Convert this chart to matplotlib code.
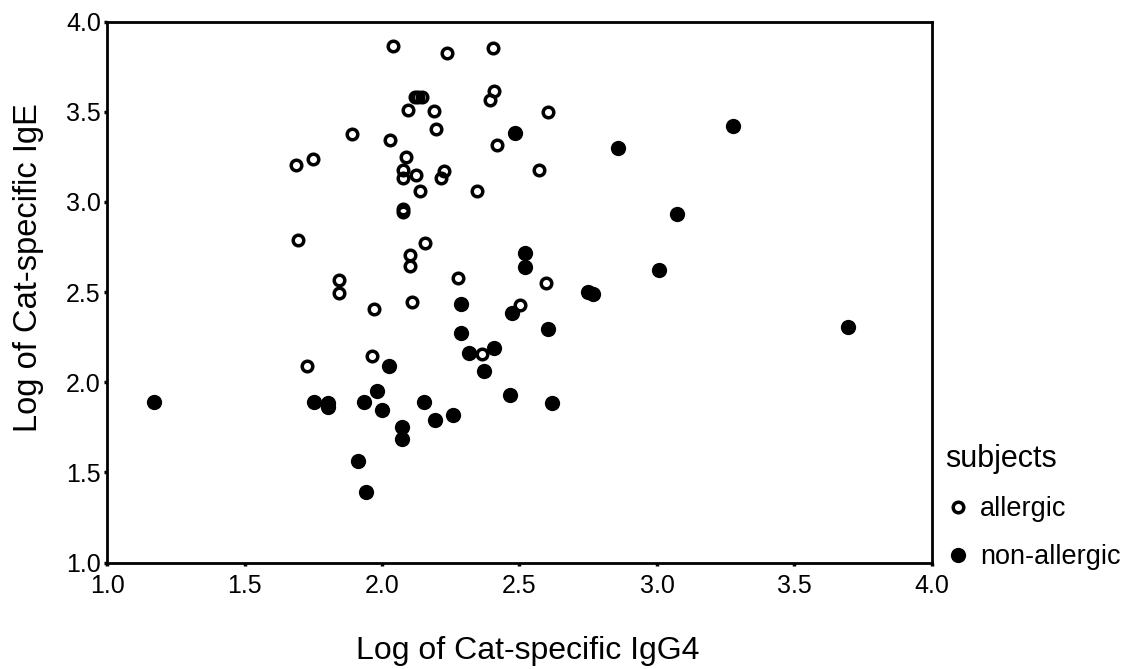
import matplotlib
matplotlib.use("Agg")
import matplotlib.pyplot as plt

plt.rcParams['font.family'] = ['Liberation Sans', 'DejaVu Sans']

# allergic subjects (open circles)
allergic_x = [2.041, 2.236, 2.403, 2.409, 2.391, 2.120, 2.132, 2.144, 2.096, 2.188,
              2.605, 2.197, 1.891, 2.030, 2.418, 1.687, 1.750, 2.087, 2.075, 2.075,
              2.124, 2.227, 2.215, 2.140, 2.345, 2.570, 2.075, 2.075, 1.695, 2.157,
              2.102, 2.102, 1.842, 1.842, 2.278, 2.595, 2.109, 1.972, 2.503, 1.729,
              1.962, 2.365]
allergic_y = [3.867, 3.825, 3.852, 3.614, 3.564, 3.583, 3.585, 3.583, 3.509, 3.504,
              3.498, 3.403, 3.375, 3.344, 3.317, 3.206, 3.238, 3.247, 3.179, 3.133,
              3.151, 3.170, 3.133, 3.063, 3.063, 3.175, 2.962, 2.944, 2.790, 2.775,
              2.705, 2.647, 2.570, 2.495, 2.577, 2.548, 2.448, 2.405, 2.430, 2.088,
              2.147, 2.159]

# non-allergic subjects (filled circles)
nonallergic_x = [2.485, 2.860, 3.277, 3.072, 2.520, 2.520, 3.006, 2.748, 2.769, 3.695,
                 2.473, 2.605, 2.286, 2.286, 2.318, 2.407, 2.371, 2.027, 2.466, 2.618,
                 1.170, 1.753, 1.802, 1.802, 1.933, 1.981, 2.000, 2.154, 2.193, 2.258,
                 2.073, 2.073, 1.914, 1.942]
nonallergic_y = [3.380, 3.298, 3.424, 2.935, 2.715, 2.640, 2.625, 2.503, 2.490, 2.309,
                 2.382, 2.296, 2.433, 2.274, 2.162, 2.190, 2.060, 2.088, 1.928, 1.883,
                 1.892, 1.892, 1.888, 1.864, 1.892, 1.950, 1.847, 1.892, 1.789, 1.817,
                 1.752, 1.687, 1.562, 1.390]

ticks = [1.0, 1.5, 2.0, 2.5, 3.0, 3.5, 4.0]
tick_labels = ["1.0", "1.5", "2.0", "2.5", "3.0", "3.5", "4.0"]

fig = plt.figure(figsize=(11.35, 6.69), dpi=100)
ax = fig.add_axes([0.0943, 0.159, 0.7268, 0.8086])

ax.plot(nonallergic_x, nonallergic_y, 'o', color='black', markersize=11,
        markeredgewidth=0, linestyle='none', label='non-allergic', zorder=2)
ax.plot(allergic_x, allergic_y, 'o', markerfacecolor='none', markeredgecolor='black',
        markersize=7.6, markeredgewidth=2.5, linestyle='none', label='allergic', zorder=3)

ax.set_xlim(1.0, 4.0)
ax.set_ylim(1.0, 4.0)
ax.set_xticks(ticks)
ax.set_xticklabels(tick_labels)
ax.set_yticks(ticks)
ax.set_yticklabels(tick_labels)
ax.tick_params(axis='both', direction='out', length=2.5, width=2.5, labelsize=18)
ax.tick_params(axis='x', pad=6)
ax.tick_params(axis='y', pad=2)
for s in ax.spines.values():
    s.set_linewidth(2)

ax.set_xlabel("Log of Cat-specific IgG4", fontsize=23)
ax.set_ylabel("Log of Cat-specific IgE", fontsize=23.5)
ax.xaxis.set_label_coords(0.51, -0.135)
ax.yaxis.set_label_coords(-0.077, 0.545)

handles, labels = ax.get_legend_handles_labels()
leg = fig.legend(handles[::-1], labels[::-1], title="subjects", loc='upper left',
                 bbox_to_anchor=(0.823, 0.3525), frameon=False, fontsize=19.5,
                 title_fontsize=22, handletextpad=0.3, labelspacing=0.82,
                 handlelength=1.0, borderaxespad=0)
leg._legend_box.align = "left"

fig.savefig("out.png", dpi=100)
